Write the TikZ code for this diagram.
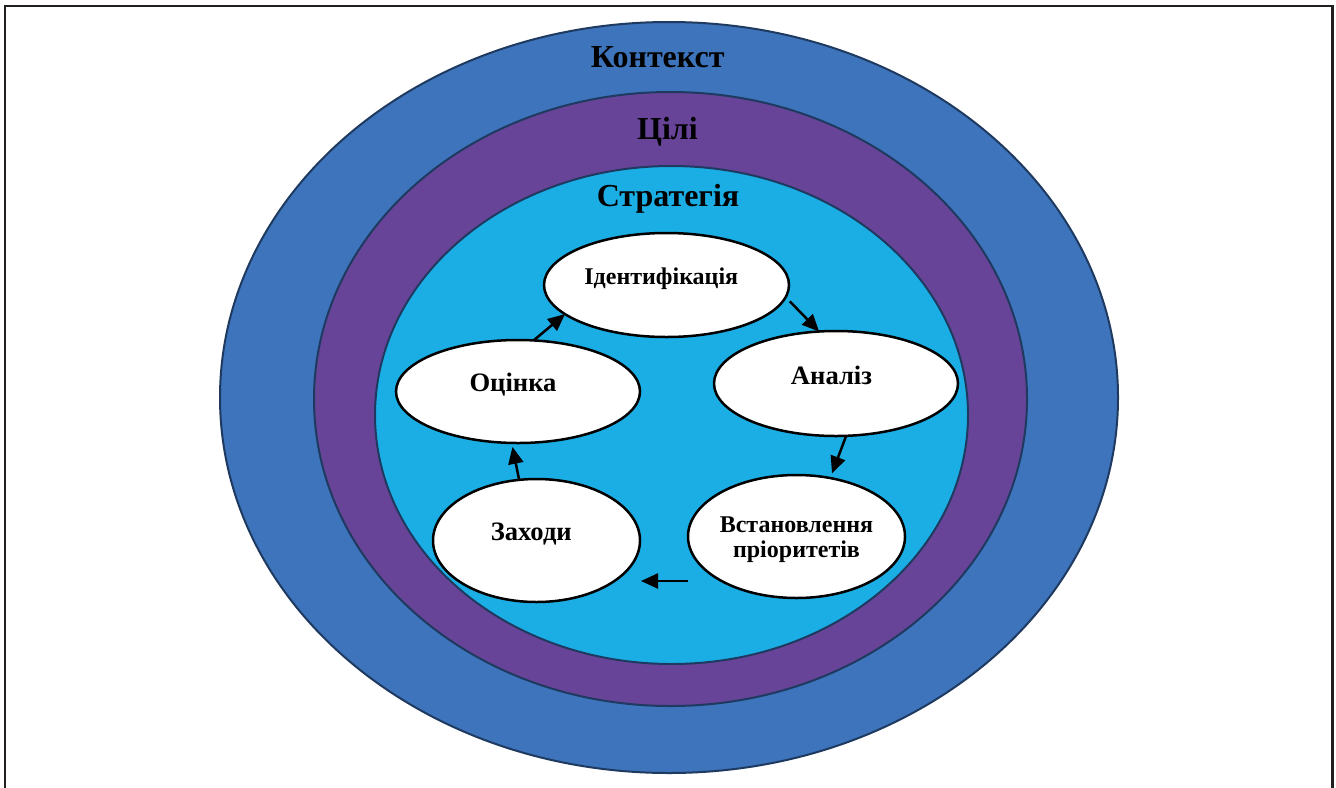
\documentclass[tikz,border=0pt]{standalone}
\usepackage{fontspec}
\setmainfont{Liberation Serif}
\usetikzlibrary{arrows.meta,calc,shapes.geometric}
\definecolor{ctxblue}{HTML}{3D74BB}
\definecolor{goalpurple}{HTML}{674497}
\definecolor{stratcyan}{HTML}{1BAEE5}
\definecolor{ringline}{HTML}{1F3A60}
\definecolor{framegray}{HTML}{231F20}
\tikzset{
  ring/.style={ellipse, draw=ringline, line width=1pt, inner sep=0pt, outer sep=0pt},
  stepell/.style={ellipse, draw=black, fill=white, line width=1.25pt, inner sep=0pt, outer sep=0pt},
  ringlabel/.style={font=\bfseries\fontsize{16}{18}\selectfont, anchor=base, inner sep=0pt},
  steplabel/.style={font=\bfseries\fontsize{12}{12.5}\selectfont, anchor=base, inner sep=0pt},
  steplabelbig/.style={font=\bfseries\fontsize{13.3}{14}\selectfont, anchor=base, inner sep=0pt},
  flow/.style={line width=1.25pt, -{Triangle[length=8.5pt,width=7.5pt]}}
}
\begin{document}
\begin{tikzpicture}[x=0.5pt,y=-0.5pt]
\useasboundingbox (0,0) rectangle (1336,787);
\fill[white] (0,0) rectangle (1336,787);
% frame
\draw[framegray, line width=1.4pt] (5,840) -- (5,6) -- (1332.5,6) -- (1332.5,840);
% rings
\node[ring, fill=ctxblue, minimum width=449pt, minimum height=375.5pt] (context) at (669,397.5) {};
\node[ring, fill=goalpurple, minimum width=356.5pt, minimum height=307pt] (goals) at (670.5,399) {};
\node[ring, fill=stratcyan, minimum width=296.5pt, minimum height=249pt] (strategy) at (671.5,415) {};
\node[ringlabel] (contextlbl) at (657.7,67.7) {Контекст};
\node[ringlabel] (goalslbl) at (667.5,139.3) {Цілі};
\node[ringlabel] (strategylbl) at (668,206.7) {Стратегія};
% steps
\node[stepell, minimum width=122.5pt, minimum height=52pt] (ident) at (666.5,285) {};
\node[stepell, minimum width=122pt, minimum height=52.5pt] (anal) at (836,383.5) {};
\node[stepell, minimum width=122pt, minimum height=51.5pt] (ocin) at (518,391.5) {};
\node[stepell, minimum width=103.5pt, minimum height=61.5pt] (zakh) at (536.5,540.5) {};
\node[stepell, minimum width=108.5pt, minimum height=61.5pt] (vstan) at (796.5,536.5) {};
\node[steplabel] (identlbl) at ($(ident)+(-5.2,-1)$) {Ідентифікація};
\node[steplabelbig] (anallbl) at ($(anal)+(-4.5,0.5)$) {Аналіз};
\node[steplabelbig] (ocinlbl) at ($(ocin)+(-5,-0.5)$) {Оцінка};
\node[steplabelbig] (zakhlbl) at ($(zakh)+(-5.2,-0.5)$) {Заходи};
\node[steplabel, anchor=center, align=center] (vstanlbl) at ($(vstan)+(0,3.5)$) {Встановлення\\пріоритетів};
% arrows
\draw[flow] (ocin.73.8) -- (ident.196);
\draw[flow] ([xshift=3.5pt]ident.-8.7) -- (anal.108.3);
\draw[flow, shorten >=2.5pt] (anal.-79.9) -- (vstan.60.1);
\draw[flow] ([yshift=-22.25pt]vstan.west) -- ([xshift=0.5pt,yshift=-20.25pt]zakh.east);
\draw[flow, shorten >=2pt] (zakh.106.5) -- (ocin.-97.2);
\end{tikzpicture}
\end{document}
